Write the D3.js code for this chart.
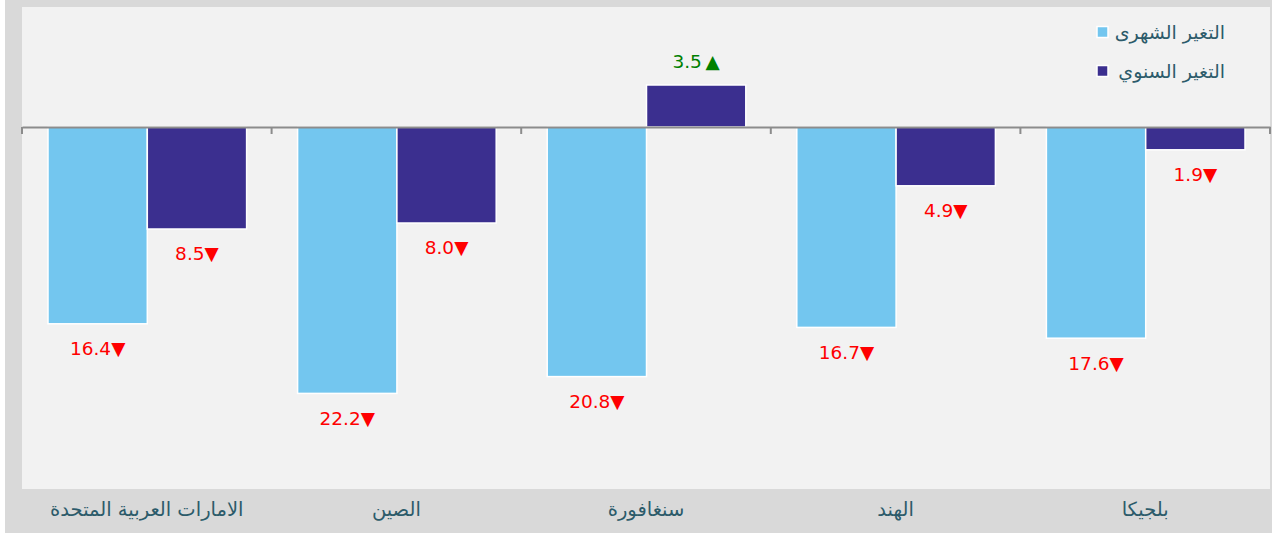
<!DOCTYPE html>
<html>
<head>
<meta charset="utf-8">
<script src="https://cdn.jsdelivr.net/npm/d3@7"></script>
<style>
  body { margin: 0; background: #ffffff; font-family: "DejaVu Sans", "Noto Sans", sans-serif; }
  svg { display: block; }
  .cat-label { fill: #2c5b6a; font-size: 19.5px; }
  .legend-label { fill: #2c5b6a; font-size: 19px; }
  .val-label { font-size: 18.5px; }
</style>
</head>
<body>
<div id="chart"></div>
<script>
// Dados
const categories = ["الامارات العربية المتحدة", "الصين", "سنغافورة", "الهند", "بلجيكا"];
const monthlyChange = [-16.4, -22.2, -20.8, -16.7, -17.6];
const annualChange = [-8.5, -8.0, 3.5, -4.9, -1.9];
const seriesNames = ["التغير الشهرى", "التغير السنوي"];
const seriesColors = ["#73c6ef", "#3b2f8f"];

const width = 1272, height = 535;
const plot = {left: 22, right: 1270, top: 7, bottom: 487};

const svg = d3.select("#chart").append("svg")
  .attr("width", width)
  .attr("height", height);

// fundo
svg.append("rect").attr("x", 5).attr("y", 0).attr("width", width - 5).attr("height", 533).attr("fill", "#d9d9d9");
svg.append("rect")
  .attr("x", plot.left).attr("y", plot.top)
  .attr("width", plot.right - plot.left).attr("height", 489 - plot.top)
  .attr("fill", "#f2f2f2");

// Escalas
const x0 = d3.scaleBand().domain(categories).range([plot.left, plot.right]).paddingInner(0).paddingOuter(0);
const x1 = d3.scaleBand().domain([0, 1]).range([26, x0.bandwidth() - 25]).padding(0);
const y = d3.scaleLinear().domain([-30, 10]).range([plot.bottom, plot.top]);

const rows = categories.map((c, i) => ({cat: c, vals: [monthlyChange[i], annualChange[i]]}));

const groups = svg.selectAll("g.grp").data(rows).enter().append("g")
  .attr("class", "grp")
  .attr("transform", d => `translate(${x0(d.cat)},0)`);

groups.selectAll("rect").data(d => d.vals.map((v, s) => ({v, s}))).enter().append("rect")
  .attr("x", d => x1(d.s))
  .attr("width", x1.bandwidth())
  .attr("y", d => y(Math.max(0, d.v)))
  .attr("height", d => Math.abs(y(d.v) - y(0)))
  .attr("fill", d => seriesColors[d.s])
  .attr("stroke", "#ffffff")
  .attr("stroke-width", 1.5);

// rótulos de valores
groups.selectAll("text.val").data(d => d.vals.map((v, s) => ({v, s}))).enter().append("text")
  .attr("class", "val-label")
  .attr("x", d => x1(d.s) + x1.bandwidth() / 2)
  .attr("y", d => d.v < 0 ? y(d.v) + 25 : y(d.v) - 23)
  .attr("dy", "0.35em")
  .attr("text-anchor", "middle")
  .attr("direction", "ltr")
  .attr("fill", d => d.v < 0 ? "#ff0000" : "#008000")
  .text(d => Math.abs(d.v).toFixed(1) + (d.v < 0 ? "▼" : "\u2009▲"));

// eixo zero
const axis = svg.append("g")
  .attr("transform", `translate(0,${y(0)})`)
  .call(d3.axisBottom(x0).tickSize(0).tickFormat(""));
axis.select(".domain").attr("stroke", "#8c8c8c").attr("stroke-width", 2);
const tickXs = categories.map(c => x0(c)).concat([plot.right]);
axis.selectAll("line.sep").data(tickXs).enter().append("line")
  .attr("x1", d => d).attr("x2", d => d)
  .attr("y1", 0).attr("y2", 7)
  .attr("stroke", "#8c8c8c").attr("stroke-width", 2);

// rótulos das categorias
svg.selectAll("text.cat").data(categories).enter().append("text")
  .attr("class", "cat-label")
  .attr("x", d => x0(d) + x0.bandwidth() / 2)
  .attr("y", 509)
  .attr("dy", "0.35em")
  .attr("text-anchor", "middle")
  .text(d => d);

// legenda
const legend = svg.selectAll("g.leg").data(seriesNames).enter().append("g")
  .attr("transform", (d, i) => `translate(0,${32 + i * 39})`);
legend.append("rect")
  .attr("x", 1097).attr("y", -5.5).attr("width", 11).attr("height", 11)
  .attr("fill", (d, i) => seriesColors[i])
  .attr("stroke", "#ffffff").attr("stroke-width", 1.5);
legend.append("text")
  .attr("class", "legend-label")
  .attr("x", 1225).attr("y", 0)
  .attr("dy", "0.35em")
  .attr("text-anchor", "end")
  .text(d => d);
</script>
</body>
</html>
